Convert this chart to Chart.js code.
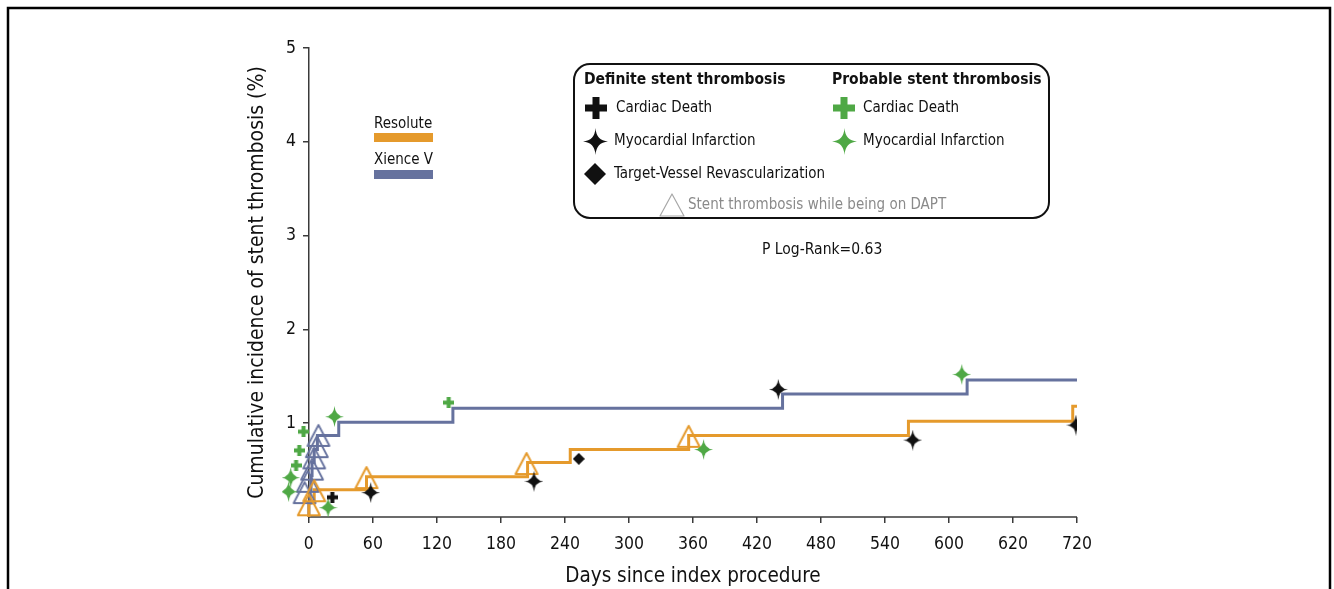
<!DOCTYPE html>
<html>
<head>
<meta charset="utf-8">
<title>Cumulative incidence of stent thrombosis</title>
<script src="https://cdn.jsdelivr.net/npm/chart.js@4.4.1/dist/chart.umd.min.js"></script>
<style>
  html, body { margin: 0; padding: 0; background: #fff; }
  #chart { display: block; }
</style>
</head>
<body>
<canvas id="chart" width="1334" height="589"></canvas>
<script>
// axis ticks (the original figure labels the 660 tick "620")
const xTickValues = [0, 60, 120, 180, 240, 300, 360, 420, 480, 540, 600, 660, 720];
const xTickLabels = ['0', '60', '120', '180', '240', '300', '360', '420', '480', '540', '600', '620', '720'];
const yTickValues = [1, 2, 3, 4, 5];

// Kaplan-Meier style curves (days, cumulative %)
const resoluteDays = [0, 0, 5, 54, 205, 245, 356, 562, 716, 720];
const resoluteRisk = [0, 0.15, 0.29, 0.43, 0.58, 0.72, 0.87, 1.02, 1.18, 1.18];
const xienceDays = [0, 0, 1, 2, 3, 5, 8, 28, 135, 444, 617, 720];
const xienceRisk = [0, 0.15, 0.29, 0.44, 0.58, 0.72, 0.87, 1.01, 1.16, 1.31, 1.46, 1.46];

// event markers
const defDeathDays = [22];
const defDeathRisk = [0.21];
const defMiDays = [58, 211, 440, 566, 719];
const defMiRisk = [0.26, 0.38, 1.36, 0.82, 0.98];
const defTvrDays = [253];
const defTvrRisk = [0.62];
const probDeathDays = [-5, -9, -12, 131];
const probDeathRisk = [0.91, 0.71, 0.55, 1.22];
const probMiDays = [-17, -19, 18, 24, 370, 612];
const probMiRisk = [0.42, 0.27, 0.10, 1.07, 0.72, 1.52];
const daptResoluteDays = [0, 5, 54, 204, 356];
const daptResoluteRisk = [0.13, 0.28, 0.42, 0.57, 0.86];
const daptXienceDays = [9, 7.5, 5, 3, -1, -4];
const daptXienceRisk = [0.87, 0.75, 0.63, 0.51, 0.38, 0.26];

const FONT = "'DejaVu Sans Condensed', 'DejaVu Sans', sans-serif";
const ORANGE = '#E59A2C';
const BLUE = '#66729E';
const GREEN = '#4FA845';
const AXIS = '#3a3a3a';
const TEXT = '#111';

function zip(xs, ys) {
    return xs.map((x, i) => ({ x: x, y: ys[i] }));
}

function markerCanvas(w, h, draw) {
    const c = document.createElement('canvas');
    c.width = w;
    c.height = h;
    draw(c.getContext('2d'), w, h);
    return c;
}

function plusMarker(color, size, bar) {
    return markerCanvas(size, size, g => {
        const a = (size - bar) / 2;
        g.fillStyle = color;
        g.fillRect(a, 0, bar, size);
        g.fillRect(0, a, size, bar);
    });
}

function starMarker(color, w, h) {
    return markerCanvas(w, h, g => {
        const cx = w / 2, cy = h / 2, d = 0.8;
        g.fillStyle = color;
        g.beginPath();
        g.moveTo(cx, 0);
        g.quadraticCurveTo(cx + d, cy - d, w, cy);
        g.quadraticCurveTo(cx + d, cy + d, cx, h);
        g.quadraticCurveTo(cx - d, cy + d, 0, cy);
        g.quadraticCurveTo(cx - d, cy - d, cx, 0);
        g.fill();
    });
}

function diamondMarker(color, size) {
    return markerCanvas(size, size, g => {
        const c = size / 2;
        g.fillStyle = color;
        g.beginPath();
        g.moveTo(c, 0);
        g.lineTo(size, c);
        g.lineTo(c, size);
        g.lineTo(0, c);
        g.closePath();
        g.fill();
    });
}

function triangleMarker(color, w, h, lw) {
    const p = 3;
    return markerCanvas(w + p * 2, h + p * 2, g => {
        g.strokeStyle = color;
        g.lineWidth = lw;
        g.lineJoin = 'round';
        g.beginPath();
        g.moveTo(p + w / 2, p);
        g.lineTo(p + w, p + h);
        g.lineTo(p, p + h);
        g.closePath();
        g.stroke();
    });
}

const pts = {
    defDeath: plusMarker(TEXT, 11, 4),
    probDeath: plusMarker(GREEN, 11, 4),
    defMi: starMarker(TEXT, 19, 21),
    probMi: starMarker(GREEN, 19, 21),
    tvr: diamondMarker(TEXT, 12),
    triOrange: triangleMarker(ORANGE, 22, 21, 2),
    triBlue: triangleMarker(BLUE, 22, 21, 1.8)
};
const leg = {
    defDeath: plusMarker(TEXT, 22, 7),
    probDeath: plusMarker(GREEN, 22, 7),
    defMi: starMarker(TEXT, 25, 27),
    probMi: starMarker(GREEN, 25, 27),
    tvr: diamondMarker(TEXT, 22),
    tri: triangleMarker('#a8a8a8', 24, 22, 1.2)
};

function markerSet(label, days, risk, style) {
    return {
        label: label,
        data: zip(days, risk),
        pointStyle: style,
        pointRadius: 6,
        showLine: false,
        order: 1
    };
}

function stepLine(label, days, risk, color) {
    return {
        label: label,
        data: zip(days, risk),
        showLine: true,
        stepped: true,
        borderColor: color,
        borderWidth: 3,
        pointRadius: 0,
        fill: false,
        order: 2
    };
}

function text(ctx, str, x, y, font, color, align) {
    ctx.font = font;
    ctx.fillStyle = color;
    ctx.textAlign = align || 'left';
    ctx.textBaseline = 'middle';
    ctx.fillText(str, x, y);
}

function put(ctx, img, x, y) {
    ctx.drawImage(img, Math.round(x - img.width / 2), Math.round(y - img.height / 2));
}

const decorations = {
    id: 'decorations',
    beforeDatasetsDraw(chart) {
        const { ctx, scales: { x, y } } = chart;
        ctx.save();
        ctx.strokeStyle = AXIS;
        ctx.lineWidth = 1.5;
        ctx.beginPath();
        ctx.moveTo(x.getPixelForValue(0), y.getPixelForValue(0));
        ctx.lineTo(x.getPixelForValue(720), y.getPixelForValue(0));
        ctx.stroke();
        ctx.restore();
    },
    afterDraw(chart) {
        const { ctx, scales: { x } } = chart;
        ctx.save();

        // x axis title, centred under the 0-720 axis line
        const mid = (x.getPixelForValue(0) + x.getPixelForValue(720)) / 2;
        text(ctx, 'Days since index procedure', mid, 577, '20.5px ' + FONT, TEXT, 'center');

        // group legend
        text(ctx, 'Resolute', 374, 124, '15px ' + FONT, TEXT);
        ctx.fillStyle = ORANGE;
        ctx.fillRect(374, 133, 59, 9);
        text(ctx, 'Xience V', 374, 160, '15px ' + FONT, TEXT);
        ctx.fillStyle = BLUE;
        ctx.fillRect(374, 170, 59, 9);

        // event legend box
        ctx.strokeStyle = TEXT;
        ctx.lineWidth = 2;
        ctx.beginPath();
        ctx.roundRect(574, 64, 475, 154, 16);
        ctx.stroke();

        const bold = 'bold 15.5px ' + FONT;
        const reg = '15px ' + FONT;
        text(ctx, 'Definite stent thrombosis', 584, 80, bold, TEXT);
        text(ctx, 'Probable stent thrombosis', 832, 80, bold, TEXT);

        put(ctx, leg.defDeath, 596, 108);
        text(ctx, 'Cardiac Death', 616, 108, reg, TEXT);
        put(ctx, leg.probDeath, 844, 108);
        text(ctx, 'Cardiac Death', 863, 108, reg, TEXT);

        put(ctx, leg.defMi, 595, 141);
        text(ctx, 'Myocardial Infarction', 614, 141, reg, TEXT);
        put(ctx, leg.probMi, 844, 141);
        text(ctx, 'Myocardial Infarction', 863, 141, reg, TEXT);

        put(ctx, leg.tvr, 595, 174);
        text(ctx, 'Target-Vessel Revascularization', 614, 174, reg, TEXT);

        put(ctx, leg.tri, 672, 205);
        text(ctx, 'Stent thrombosis while being on DAPT', 688, 205, reg, '#8a8a8a');

        text(ctx, 'P Log-Rank=0.63', 762, 250, '15.5px ' + FONT, TEXT);

        // outer frame
        ctx.strokeStyle = '#000';
        ctx.lineWidth = 2.5;
        ctx.strokeRect(8, 8, 1322, 700);
        ctx.restore();
    }
};

new Chart(document.getElementById('chart'), {
    type: 'scatter',
    data: {
        datasets: [
            markerSet('Definite - Cardiac Death', defDeathDays, defDeathRisk, pts.defDeath),
            markerSet('Definite - Myocardial Infarction', defMiDays, defMiRisk, pts.defMi),
            markerSet('Definite - Target-Vessel Revascularization', defTvrDays, defTvrRisk, pts.tvr),
            markerSet('Probable - Cardiac Death', probDeathDays, probDeathRisk, pts.probDeath),
            markerSet('Probable - Myocardial Infarction', probMiDays, probMiRisk, pts.probMi),
            markerSet('Resolute on DAPT', daptResoluteDays, daptResoluteRisk, pts.triOrange),
            markerSet('Xience V on DAPT', daptXienceDays, daptXienceRisk, pts.triBlue),
            stepLine('Resolute', resoluteDays, resoluteRisk, ORANGE),
            stepLine('Xience V', xienceDays, xienceRisk, BLUE)
        ]
    },
    options: {
        responsive: false,
        animation: false,
        layout: { padding: { left: 236, right: 257, top: 48, bottom: 0 } },
        plugins: {
            legend: { display: false },
            tooltip: { enabled: false }
        },
        scales: {
            x: {
                type: 'linear',
                position: 'bottom',
                min: -25,
                max: 720,
                afterBuildTicks: s => { s.ticks = xTickValues.map(v => ({ value: v })); },
                afterFit: s => { s.height = 72; },
                border: { display: false },
                grid: { drawOnChartArea: false, tickLength: 6, color: AXIS, lineWidth: 1.5 },
                ticks: {
                    autoSkip: false,
                    maxRotation: 0,
                    padding: 11,
                    color: TEXT,
                    font: { family: FONT, size: 17.5 },
                    callback: (v, i) => xTickLabels[i]
                },
                title: { display: false }
            },
            y: {
                type: 'linear',
                position: { x: 0 },
                min: 0,
                max: 5,
                afterBuildTicks: s => { s.ticks = yTickValues.map(v => ({ value: v })); },
                border: { display: true, color: AXIS, width: 1.5 },
                grid: { drawOnChartArea: false, tickLength: 5, color: AXIS, lineWidth: 1.5 },
                ticks: {
                    color: TEXT,
                    font: { family: FONT, size: 17.5 },
                    // the axis sits at x = 0, so the labels need their own gap
                    callback: v => v + '\u2002 '
                }
            },
            yt: {
                type: 'linear',
                position: 'left',
                ticks: { display: false },
                grid: { display: false, drawTicks: false },
                border: { display: false },
                title: {
                    display: true,
                    text: 'Cumulative incidence of stent thrombosis (%)',
                    color: TEXT,
                    font: { family: FONT, size: 21 },
                    padding: { top: 9, bottom: 12 }
                }
            }
        }
    },
    plugins: [decorations]
});
</script>
</body>
</html>
